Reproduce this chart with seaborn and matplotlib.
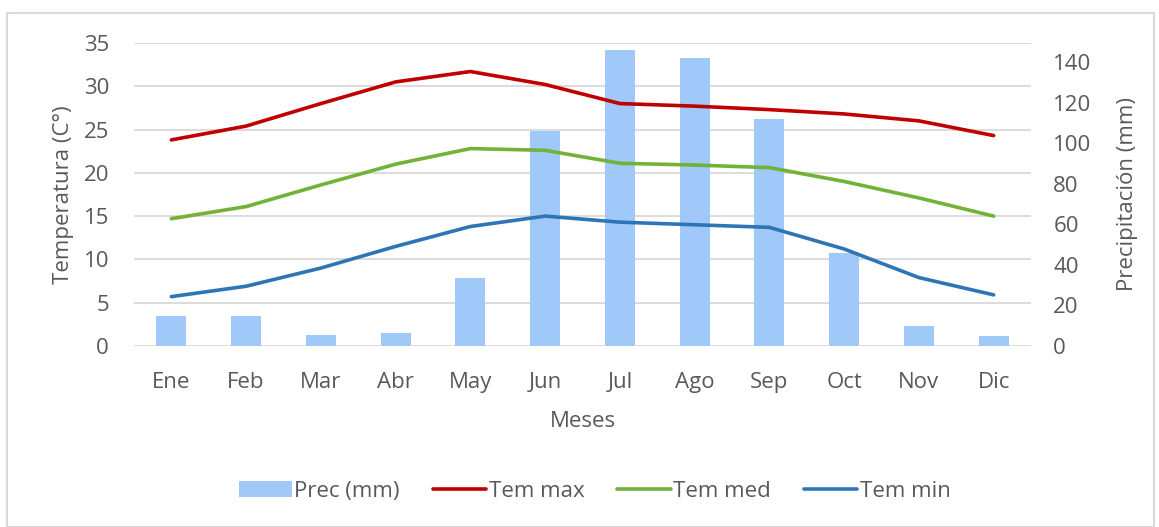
import numpy as np
import pandas as pd
import matplotlib
matplotlib.use("Agg")
import matplotlib.pyplot as plt
import matplotlib.patches as mpatches
from matplotlib.lines import Line2D
import seaborn as sns

# Data
meses = ["Ene", "Feb", "Mar", "Abr", "May", "Jun", "Jul", "Ago", "Sep", "Oct", "Nov", "Dic"]
prec_mm = [15, 15, 5.5, 6.5, 33.5, 106, 146, 142, 112, 46, 10, 5]
tem_max = [23.8, 25.4, 28.0, 30.5, 31.7, 30.2, 28.0, 27.7, 27.3, 26.8, 26.0, 24.3]
tem_med = [14.7, 16.1, 18.6, 21.0, 22.8, 22.6, 21.1, 20.9, 20.6, 19.0, 17.1, 15.0]
tem_min = [5.7, 6.9, 9.0, 11.5, 13.8, 15.0, 14.3, 14.0, 13.7, 11.2, 7.9, 5.9]

temp_ticks = [0, 5, 10, 15, 20, 25, 30, 35]
prec_ticks = [0, 20, 40, 60, 80, 100, 120, 140]

# Colours
C_BAR = "#a0c8f8"
C_MAX = "#c00000"
C_MED = "#72b236"
C_MIN = "#2e75b6"
C_TEXT = "#595959"
C_GRID = "#d9d9d9"

sns.set_theme(style="white")
plt.rcParams["font.family"] = ["Open Sans", "DejaVu Sans"]
plt.rcParams["text.color"] = C_TEXT
plt.rcParams["axes.labelcolor"] = C_TEXT
plt.rcParams["xtick.color"] = C_TEXT
plt.rcParams["ytick.color"] = C_TEXT

FS = 16

df = pd.DataFrame({"mes": meses, "prec": prec_mm, "x": np.arange(len(meses)),
                   "tmax": tem_max, "tmed": tem_med, "tmin": tem_min})

fig = plt.figure(figsize=(11.59, 5.27), dpi=100)
ax = fig.add_axes([0.1156, 0.3435, 0.774, 0.575])   # temperature axis (grid)
ax2 = ax.twinx()                                     # precipitation bars
ax3 = ax.twinx()                                     # temperature lines on top

# gridlines for temperature axis
ax.set_ylim(0, 35)
ax.set_yticks(temp_ticks)
ax.yaxis.grid(True, color=C_GRID, linewidth=1.3)
ax.set_axisbelow(True)

# bars
sns.barplot(data=df, x="mes", y="prec", ax=ax2, color=C_BAR, width=0.4,
            saturation=1, linewidth=0)
ax2.set_ylim(0, 149.4)
ax2.set_yticks(prec_ticks)

# lines
sns.lineplot(data=df, x="x", y="tmax", ax=ax3, color=C_MAX, linewidth=2.6)
sns.lineplot(data=df, x="x", y="tmed", ax=ax3, color=C_MED, linewidth=2.6)
sns.lineplot(data=df, x="x", y="tmin", ax=ax3, color=C_MIN, linewidth=2.6)
ax3.set_ylim(0, 35)
ax3.set_yticks([])
ax3.set_ylabel("")

for a in (ax, ax2, ax3):
    a.set_xlim(-0.5, len(meses) - 0.5)
    for s in a.spines.values():
        s.set_visible(False)

ax.set_zorder(0)
ax2.set_zorder(1)
ax3.set_zorder(2)
ax2.patch.set_visible(False)
ax3.patch.set_visible(False)

ax.set_xticks(np.arange(len(meses)))
ax.set_xticklabels(meses)
ax.tick_params(axis="x", length=0, pad=19, labelsize=FS)
ax.tick_params(axis="y", length=0, pad=18, labelsize=FS)
ax2.tick_params(axis="y", length=0, pad=16, labelsize=FS)
ax2.tick_params(axis="x", length=0, labelbottom=False)
ax3.tick_params(axis="x", length=0, labelbottom=False)

ax.set_xlabel("Meses", fontsize=FS, labelpad=13)
ax.set_ylabel("Temperatura (C°)", fontsize=FS, labelpad=7)
ax2.set_ylabel("Precipitación (mm)", fontsize=FS, labelpad=18)
ax2.set_xlabel("")
ax3.set_xlabel("")

handles = [
    mpatches.Patch(facecolor=C_BAR, edgecolor="none", label="Prec (mm)"),
    Line2D([], [], color=C_MAX, linewidth=2.6, label="Tem max"),
    Line2D([], [], color=C_MED, linewidth=2.6, label="Tem med"),
    Line2D([], [], color=C_MIN, linewidth=2.6, label="Tem min"),
]
fig.legend(handles=handles, loc="center", bbox_to_anchor=(0.513, 0.068), ncol=4,
           frameon=False, fontsize=FS, handlelength=2.4, handletextpad=0.1,
           columnspacing=1.5)

# chart border
fig.patches.append(mpatches.Rectangle((0.006, 0.0), 0.99, 0.976, transform=fig.transFigure,
                                      fill=False, edgecolor=C_GRID, linewidth=1.5))

fig.savefig("out.png", dpi=100)
